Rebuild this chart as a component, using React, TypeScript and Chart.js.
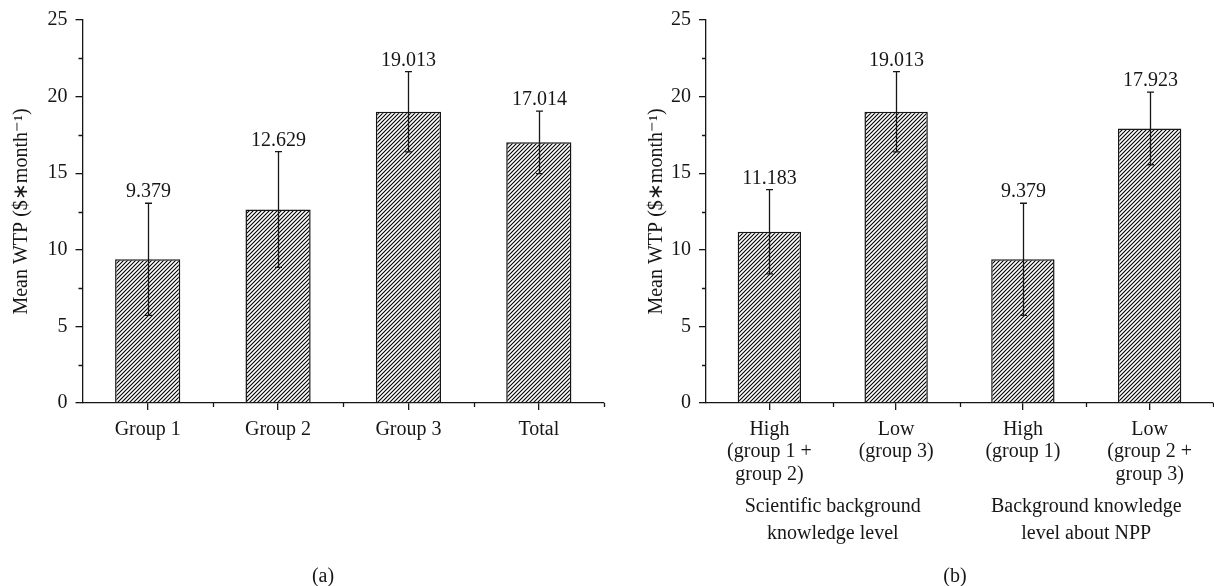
import React, { useEffect, useRef } from "react";
import { Chart, registerables } from "chart.js";
Chart.register(...registerables);

const FONT = "'Liberation Serif', 'Times New Roman', serif";
const INK = "#161616";
const FS = 20;

const labelsA = ["Group 1", "Group 2", "Group 3", "Total"];
const meansA = [9.379, 12.629, 19.013, 17.014];
const errA = [3.66, 3.78, 2.62, 2.04];

const labelsB = [
  ["High", "(group 1 +", "group 2)"],
  ["Low", "(group 3)"],
  ["High", "(group 1)"],
  ["Low", "(group 2 +", "group 3)"],
];
const meansB = [11.183, 19.013, 9.379, 17.923];
const errB = [2.75, 2.62, 3.66, 2.37];
const groupTitlesB = [
  ["Scientific background", "knowledge level"],
  ["Background knowledge", "level about NPP"],
];

const yMin = 0;
const yMax = 25;
const yStep = 5;
const yTitle = "Mean WTP ($\u2217month\u207B\u00B9)";

function makeHatch(ctx: CanvasRenderingContext2D) {
  const c = document.createElement("canvas");
  c.width = 4;
  c.height = 4;
  const g = c.getContext("2d")!;
  g.fillStyle = "#fff";
  g.fillRect(0, 0, 4, 4);
  g.strokeStyle = "#000";
  g.lineWidth = 1.1;
  g.beginPath();
  g.moveTo(0, 4);
  g.lineTo(4, 0);
  g.moveTo(-1, 1);
  g.lineTo(1, -1);
  g.moveTo(3, 5);
  g.lineTo(5, 3);
  g.stroke();
  return ctx.createPattern(c, "repeat")!;
}

const extrasPlugin = {
  id: "extras",
  afterDatasetsDraw(chart: any, _args: any, opts: any) {
    const { ctx, chartArea } = chart;
    const x = chart.scales.x;
    const y = chart.scales.y;
    const meta = chart.getDatasetMeta(0);
    const means = chart.data.datasets[0].data as number[];
    const errs = opts.errors as number[];
    ctx.save();
    ctx.strokeStyle = INK;
    ctx.fillStyle = INK;
    ctx.lineWidth = 1.3;
    ctx.font = `${FS}px ${FONT}`;
    ctx.textAlign = "center";
    ctx.textBaseline = "alphabetic";
    meta.data.forEach((bar: any, i: number) => {
      const cx = Math.round(bar.x) + 0.5;
      const top = y.getPixelForValue(means[i] + errs[i]);
      const bot = y.getPixelForValue(means[i] - errs[i]);
      ctx.beginPath();
      ctx.moveTo(cx, top);
      ctx.lineTo(cx, bot);
      ctx.moveTo(cx - 3.5, top);
      ctx.lineTo(cx + 3.5, top);
      ctx.moveTo(cx - 3.5, bot);
      ctx.lineTo(cx + 3.5, bot);
      ctx.stroke();
      ctx.fillText(means[i].toFixed(3), cx, top - 6);
    });
    // minor ticks
    ctx.beginPath();
    for (let v = yMin + yStep / 2; v < yMax; v += yStep) {
      const py = Math.round(y.getPixelForValue(v)) + 0.5;
      ctx.moveTo(chartArea.left - 4, py);
      ctx.lineTo(chartArea.left, py);
    }
    const n = chart.data.labels.length;
    const band = x.getPixelForValue(1) - x.getPixelForValue(0);
    for (let i = 1; i <= n; i++) {
      const px = Math.round(x.getPixelForValue(i) - band / 2) + 0.5;
      ctx.moveTo(px, chartArea.bottom);
      ctx.lineTo(px, chartArea.bottom + 4);
    }
    ctx.stroke();
    // group titles
    if (opts.groups) {
      opts.groups.forEach((g: string[], gi: number) => {
        const gx = (x.getPixelForValue(gi * 2) + x.getPixelForValue(gi * 2 + 1)) / 2;
        g.forEach((line: string, li: number) => {
          ctx.fillText(line, gx, opts.groupY + li * 27);
        });
      });
    }
    // caption
    ctx.fillText(opts.caption, opts.captionX, opts.captionY);
    ctx.restore();
  },
};

type PanelProps = {
  left: number;
  width: number;
  axisWidth: number;
  padRight: number;
  titlePad: number;
  labels: any[];
  means: number[];
  errors: number[];
  caption: string;
  captionX: number;
  groups?: string[][];
};

function Panel(p: PanelProps) {
  const ref = useRef<HTMLCanvasElement>(null);
  useEffect(() => {
    const canvas = ref.current!;
    const ctx = canvas.getContext("2d")!;
    const hatch = makeHatch(ctx);
    const chart = new Chart(ctx, {
      type: "bar",
      data: {
        labels: p.labels,
        datasets: [
          {
            data: p.means,
            backgroundColor: hatch,
            borderColor: INK,
            borderWidth: 1.5,
            barPercentage: 0.5,
            categoryPercentage: 1,
          },
        ],
      },
      options: {
        animation: false,
        responsive: false,
        devicePixelRatio: 1,
        layout: { padding: { top: 17, right: p.padRight, bottom: 0, left: 0 } },
        plugins: {
          legend: { display: false },
          tooltip: { enabled: false },
          extras: {
            errors: p.errors,
            caption: p.caption,
            captionX: p.captionX,
            captionY: 582,
            groups: p.groups,
            groupY: 512,
          },
        } as any,
        scales: {
          x: {
            offset: true,
            grid: {
              display: true,
              drawOnChartArea: false,
              drawTicks: true,
              tickLength: 7,
              offset: false,
              color: INK,
              lineWidth: 1.3,
            },
            border: { display: true, color: INK, width: 1.3 },
            ticks: {
              color: INK,
              autoSkip: false,
              maxRotation: 0,
              padding: 8,
              font: { family: FONT, size: FS, lineHeight: 1.13 },
            },
            afterFit: (s: any) => {
              s.height = 586 - 403;
            },
          },
          y: {
            min: yMin,
            max: yMax,
            grid: {
              display: true,
              drawOnChartArea: false,
              drawTicks: true,
              tickLength: 7,
              color: INK,
              lineWidth: 1.3,
            },
            border: { display: true, color: INK, width: 1.3 },
            ticks: {
              stepSize: yStep,
              color: INK,
              padding: 8,
              font: { family: FONT, size: FS },
            },
            title: {
              display: true,
              text: yTitle,
              color: INK,
              font: { family: FONT, size: FS },
              padding: { top: p.titlePad, bottom: 0 },
            },
            afterFit: (s: any) => {
              s.width = p.axisWidth;
            },
          },
        },
      },
      plugins: [extrasPlugin],
    });
    return () => chart.destroy();
  }, []);
  return (
    <canvas
      ref={ref}
      width={p.width}
      height={586}
      style={{ position: "absolute", left: p.left, top: 0, width: p.width, height: 586 }}
    />
  );
}

export default function App() {
  return (
    <div style={{ position: "absolute", left: 0, top: 0, width: 1214, height: 586, background: "#fff" }}>
      <Panel
        left={0}
        width={620}
        axisWidth={82.5}
        padRight={16}
        titlePad={10}
        labels={labelsA}
        means={meansA}
        errors={errA}
        caption="(a)"
        captionX={323}
      />
      <Panel
        left={620}
        width={594}
        axisWidth={86}
        padRight={1}
        titlePad={25}
        labels={labelsB}
        means={meansB}
        errors={errB}
        caption="(b)"
        captionX={335}
        groups={groupTitlesB}
      />
    </div>
  );
}
